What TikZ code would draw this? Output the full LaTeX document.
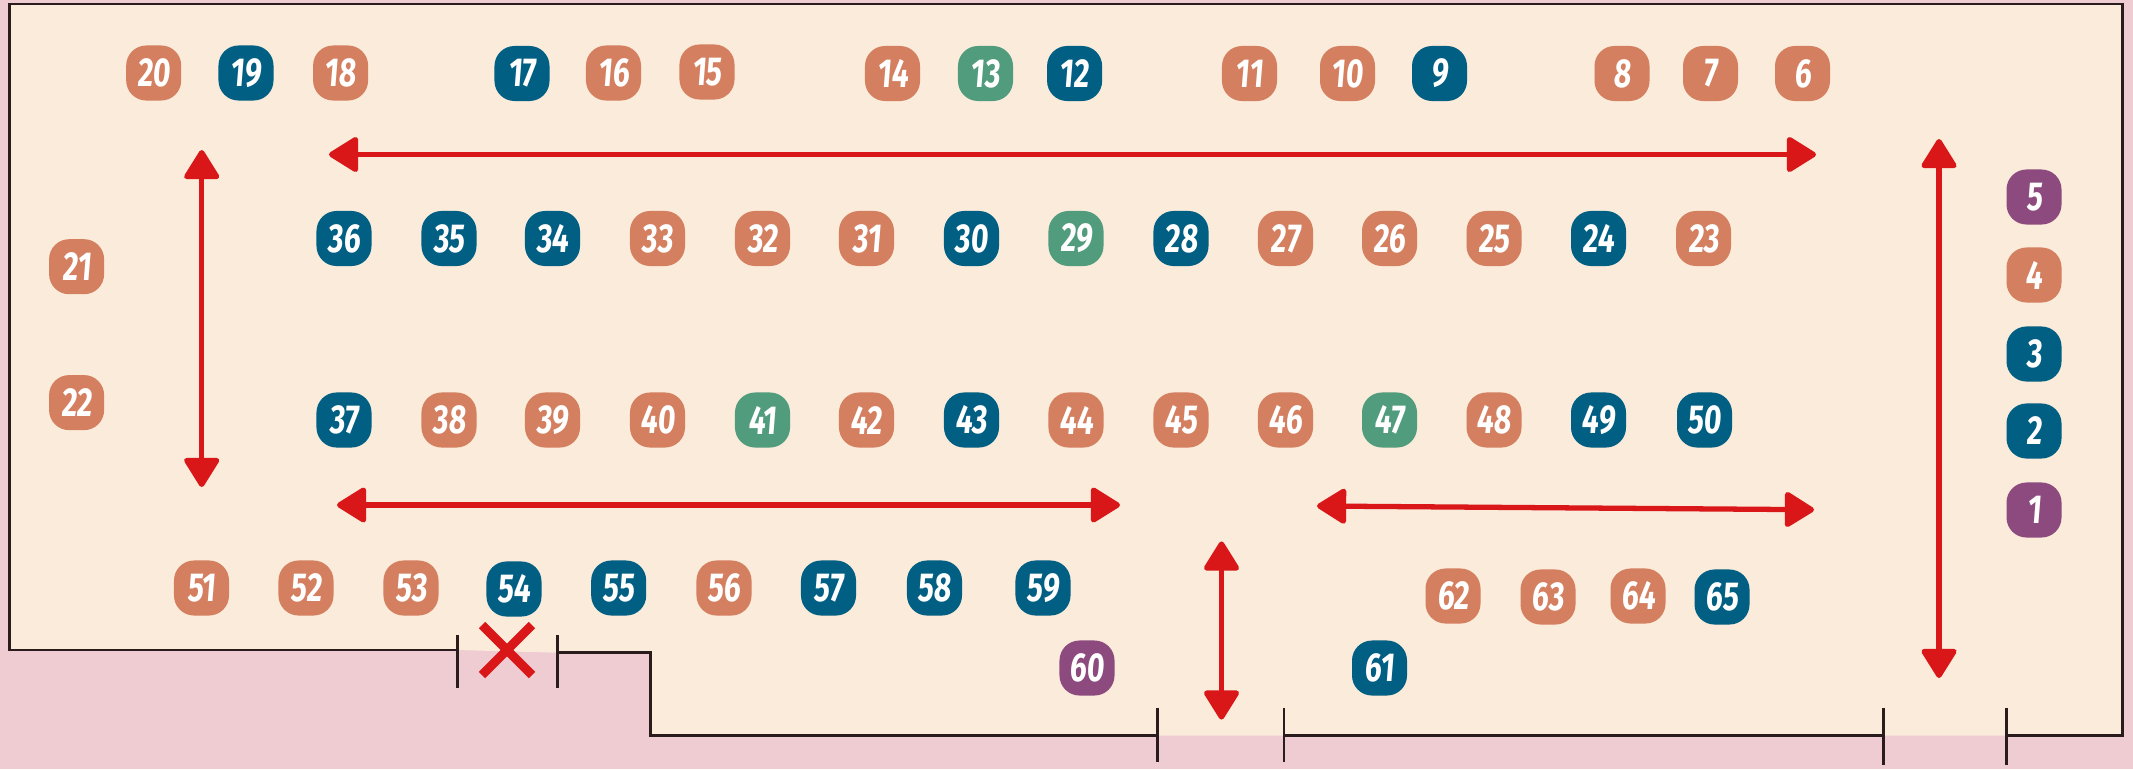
\documentclass[tikz,border=0pt]{standalone}
\usepackage{fontspec}
\usetikzlibrary{arrows.meta}
\newfontfamily\seatfont[FakeStretch=0.74,FakeSlant=0.08]{Fira Sans}

\definecolor{roompink}{HTML}{EFCBD2}
\definecolor{roomcream}{HTML}{FAEBDA}
\definecolor{wallcol}{HTML}{2A1C1C}
\definecolor{flowred}{HTML}{D91618}
\definecolor{seatorange}{HTML}{D47F60}
\definecolor{seatblue}{HTML}{005F83}
\definecolor{seatgreen}{HTML}{529C7E}
\definecolor{seatpurple}{HTML}{8C4A7F}

\tikzset{
    seat/.style={fill=#1, text=white, minimum size=0.55cm, inner sep=0pt, rounded corners=0.2cm, font=\seatfont\bfseries\fontsize{11.5}{12}\selectfont},
    wall/.style={draw=wallcol, line width=0.8pt},
    flow/.style={draw=flowred, line width=1.5pt, {Triangle[length=9pt,width=10.8pt,round]}-{Triangle[length=9pt,width=10.8pt,round]}},
}

\begin{document}
\begin{tikzpicture}[x=0.01cm, y=-0.01cm]

    % Page and room
    \fill[roompink] (0,0) rectangle (2133,769);
    \fill[roomcream] (9.5,4) -- (2122.7,4) -- (2122.7,735.7) -- (650.7,735.7) -- (650.7,652.7) -- (557.3,652.7) -- (457.3,650) -- (9.5,650) -- cycle;

    \useasboundingbox (0,0) rectangle (2133,769);

    % Walls
    \draw[wall] (457.3,650) -- (9.5,650) -- (9.5,4) -- (2122.7,4) -- (2122.7,735.7) -- (2006.3,735.7);
    \draw[wall] (557.3,652.7) -- (650.7,652.7) -- (650.7,735.7) -- (1157.6,735.7);
    \draw[wall] (1284,735.7) -- (1883.7,735.7);
    % Door posts
    \draw[wall] (457.3,635) -- (457.3,688);
    \draw[wall] (557.3,635) -- (557.3,688);
    \draw[wall] (1157.6,707.7) -- (1157.6,762);
    \draw[wall] (1284,707.7) -- (1284,762);
    \draw[wall] (1883.7,707.7) -- (1883.7,765);
    \draw[wall] (2006.3,707.7) -- (2006.3,765);

    % Top row
    \foreach \n/\x/\y/\col in {20/153.7/73/seatorange, 19/246/73/seatblue, 18/340.6/73/seatorange,
        17/522/73.5/seatblue, 16/613.5/73/seatorange, 15/707/72/seatorange,
        14/892.5/73.5/seatorange, 13/985.5/73.5/seatgreen, 12/1074.6/73.5/seatblue,
        11/1249.5/73.5/seatorange, 10/1347.5/73.5/seatorange, 9/1439.5/73.5/seatblue,
        8/1622/73.5/seatorange, 7/1710.5/73.5/seatorange, 6/1802.5/73.5/seatorange}{
        \node[seat=\col] (s\n) at (\x,\y) {\n};
    }
    % Second row
    \foreach \n/\x/\col in {36/344/seatblue, 35/449/seatblue, 34/552.5/seatblue, 33/657.5/seatorange,
        32/762.5/seatorange, 31/866.5/seatorange, 30/971.5/seatblue, 29/1076/seatgreen,
        28/1181/seatblue, 27/1285.5/seatorange, 26/1389.5/seatorange, 25/1494/seatorange,
        24/1598.5/seatblue, 23/1703.5/seatorange}{
        \node[seat=\col] (s\n) at (\x,238.5) {\n};
    }
    % Third row
    \foreach \n/\x/\col in {37/344/seatblue, 38/449/seatorange, 39/552.5/seatorange, 40/657.5/seatorange,
        41/762.5/seatgreen, 42/866.5/seatorange, 43/971.5/seatblue, 44/1076/seatorange,
        45/1181/seatorange, 46/1285.5/seatorange, 47/1389.5/seatgreen, 48/1494/seatorange,
        49/1598.5/seatblue, 50/1704.5/seatblue}{
        \node[seat=\col] (s\n) at (\x,420) {\n};
    }
    % Left and right columns
    \node[seat=seatorange] (s21) at (76.6,266.7) {21};
    \node[seat=seatorange] (s22) at (76.6,402.6) {22};
    \foreach \n/\y/\col in {5/197/seatpurple, 4/275/seatorange, 3/354/seatblue, 2/431/seatblue, 1/510/seatpurple}{
        \node[seat=\col] (s\n) at (2034,\y) {\n};
    }
    % Bottom row
    \foreach \n/\x/\y/\col in {51/201.5/588/seatorange, 52/306/588/seatorange, 53/411/588/seatorange,
        54/514/589/seatblue, 55/618.7/588/seatblue, 56/724/588/seatorange,
        57/828.5/588/seatblue, 58/934.5/588/seatblue, 59/1043/588/seatblue,
        60/1087/668/seatpurple, 61/1379.5/668/seatblue, 62/1453/596/seatorange,
        63/1548/597/seatorange, 64/1638/596/seatorange, 65/1722/597/seatblue}{
        \node[seat=\col] (s\n) at (\x,\y) {\n};
    }

    % Walking directions
    \coordinate (atl) at (329,154.5);
    \coordinate (atr) at (1816,154.5);
    \coordinate (alt) at (201.7,150);
    \coordinate (alb) at (201.7,487);
    \coordinate (art) at (1939,139);
    \coordinate (arb) at (1939,678);
    \coordinate (abl) at (337,505);
    \coordinate (abr) at (1120,505);
    \coordinate (aml) at (1317,506);
    \coordinate (amr) at (1814,509.7);
    \coordinate (adt) at (1221.5,541.4);
    \coordinate (adb) at (1221.5,719.6);
    \draw[flow] (atl) -- (atr);
    \draw[flow] (alt) -- (alb);
    \draw[flow] (art) -- (arb);
    \draw[flow] (abl) -- (abr);
    \draw[flow] (aml) -- (amr);
    \draw[flow] (adt) -- (adb);

    % Closed door
    \draw[flowred, line width=2.6pt] (482,625) -- (532,675);
    \draw[flowred, line width=2.6pt] (532,625) -- (482,675);

\end{tikzpicture}
\end{document}
